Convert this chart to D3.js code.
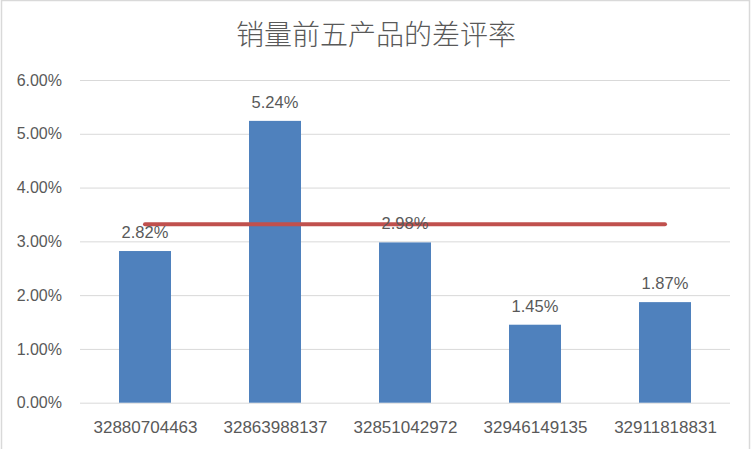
<!DOCTYPE html>
<html><head><meta charset="utf-8">
<script src="https://cdn.jsdelivr.net/npm/d3@7"></script>
<style>html,body{margin:0;padding:0;background:#fff;overflow:hidden}</style>
</head><body>
<svg id="c" width="752" height="449"></svg>
<script>
const title = "销量前五产品的差评率";
const categories = ["32880704463","32863988137","32851042972","32946149135","32911818831"];
const rates = [2.82, 5.24, 2.98, 1.45, 1.87];
const refLine = [3.32, 3.32, 3.32, 3.32, 3.32];
const yTicks = [0,1,2,3,4,5,6];

const svg = d3.select("#c");
const W = 752, H = 449;
const m = {left:80, right:22, top:80, bottom:46};
const font = "'Liberation Sans', Arial, sans-serif";
const txt = "#595959";

svg.append("rect").attr("x",1.5).attr("y",0.5).attr("width",W-4).attr("height",H+5)
  .attr("fill","#fff").attr("stroke","#d9d9d9").attr("stroke-width",1.5);

const x = d3.scaleBand().domain(categories).range([m.left, W-m.right]).paddingInner(0.6).paddingOuter(0.3);
const xc = d3.scalePoint().domain(categories).range([m.left, W-m.right]).padding(0.5);
const y = d3.scaleLinear().domain([0,6]).range([H-m.bottom-0.3, m.top]);

svg.append("text").attr("x",376).attr("y",45).attr("text-anchor","middle")
  .attr("font-family","'Noto Sans CJK SC', sans-serif").attr("font-size",28).attr("font-weight",300)
  .attr("fill",txt).text(title);

// grid
const yAxis = d3.axisLeft(y).tickValues(yTicks).tickSize(-(W-m.left-m.right)).tickPadding(18)
  .tickFormat(d => d.toFixed(2)+"%");
const gy = svg.append("g").attr("transform",`translate(${m.left},0)`).call(yAxis);
gy.select(".domain").remove();
gy.selectAll(".tick line").attr("stroke","#d9d9d9").attr("stroke-width",1);
gy.selectAll(".tick text").attr("font-family",font).attr("font-size",16).attr("fill",txt);

// bars
svg.append("g").selectAll("rect").data(rates).join("rect")
  .attr("x",(d,i)=>x(categories[i])).attr("width",x.bandwidth())
  .attr("y",d=>y(d)).attr("height",d=>y(0)-y(d)).attr("fill","#4f81bd");

// x axis labels
const xAxis = d3.axisBottom(xc).tickSize(0).tickPadding(18.5);
const gx = svg.append("g").attr("transform",`translate(0,${y(0)})`).call(xAxis);
gx.select(".domain").remove();
gx.selectAll(".tick text").attr("font-family",font).attr("font-size",17).attr("fill",txt);

// reference line
svg.append("path").datum(refLine)
  .attr("d", d3.line().x((d,i)=>xc(categories[i])).y(d=>y(d)))
  .attr("fill","none").attr("stroke","#c0504d").attr("stroke-width",4).attr("stroke-linecap","round");

// data labels
svg.append("g").selectAll("text").data(rates).join("text")
  .attr("x",(d,i)=>xc(categories[i])).attr("y",d=>y(d)-13)
  .attr("text-anchor","middle").attr("font-family",font).attr("font-size",16.5).attr("fill",txt)
  .text(d=>d.toFixed(2)+"%");
</script>
</body></html>
